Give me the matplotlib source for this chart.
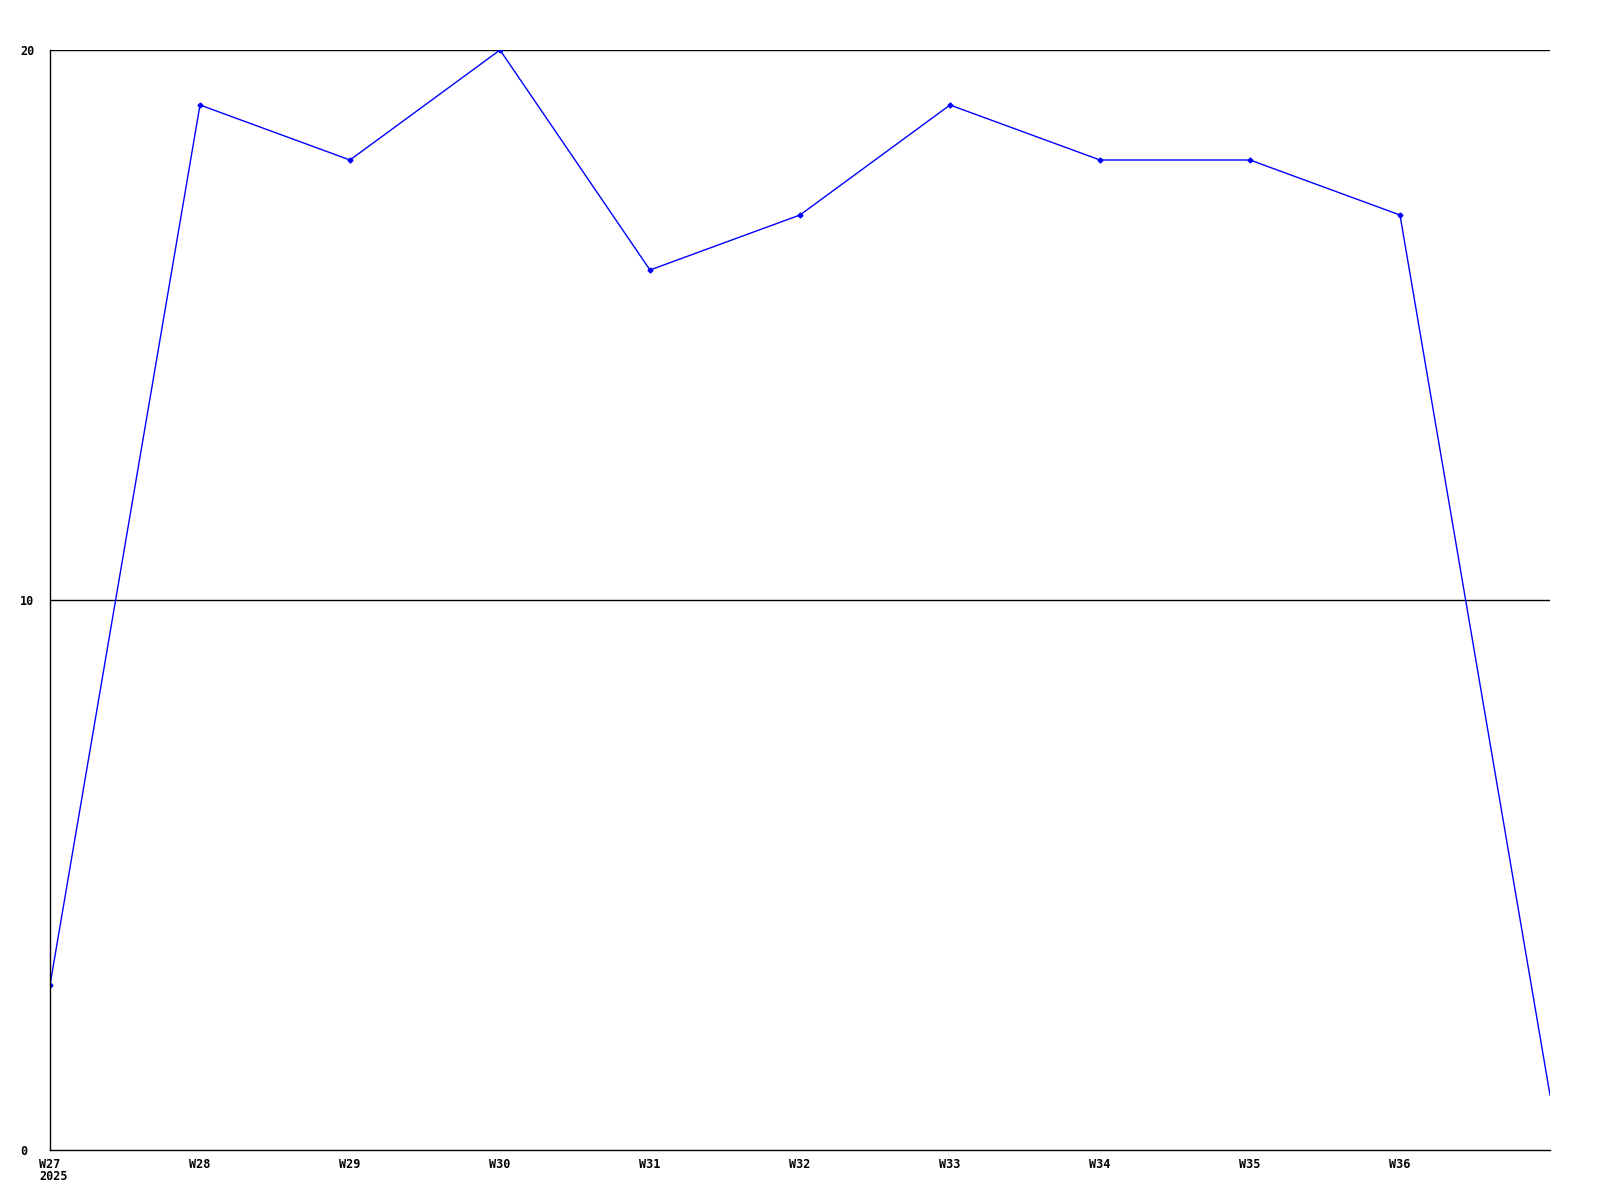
import matplotlib.pyplot as plt
import numpy as np

weeks = ["W27", "W28", "W29", "W30", "W31", "W32", "W33", "W34", "W35", "W36", "W37"]
counts = [3, 19, 18, 20, 16, 17, 19, 18, 18, 17, 1]
yticks = [0, 10, 20]

x = np.arange(len(weeks))

fig = plt.figure(figsize=(16, 12), dpi=100)
ax = fig.add_axes([50/1600, 50/1200, 1500/1600, 1100/1200])

ax.plot(x, counts, color="#0000ff", lw=1, marker="D", ms=2.5, mec="#0000ff",
        markevery=list(range(len(weeks) - 1)))
ax.set_xlim(0, len(weeks) - 1)
ax.set_ylim(0, 20)

for t in yticks[1:]:
    ax.axhline(t, color="black", lw=1, zorder=0)

ax.set_yticks(yticks)
ax.set_yticklabels([str(t) for t in yticks])
ax.set_xticks(x[:-1])
ax.set_xticklabels(weeks[:-1])
ax.tick_params(length=0, labelsize=8.5, pad=6)
# y labels start at a fixed left margin
ax.tick_params(axis="y", pad=21.5)
for lab in ax.get_yticklabels():
    lab.set_horizontalalignment("left")
for lab in ax.get_xticklabels() + ax.get_yticklabels():
    lab.set_fontfamily("DejaVu Sans Mono")
    lab.set_fontweight("bold")

# year under the first week label
ax.annotate("2025", xy=(0, 0), xycoords=ax.get_xaxis_transform(),
            xytext=(-11, -20), textcoords="offset pixels", ha="left", va="top",
            fontsize=8.5, fontfamily="DejaVu Sans Mono", fontweight="bold")

ax.spines["right"].set_visible(False)
ax.spines["top"].set_visible(False)
ax.spines["left"].set_linewidth(1)
ax.spines["bottom"].set_linewidth(1)

fig.savefig("out.png", dpi=100)
